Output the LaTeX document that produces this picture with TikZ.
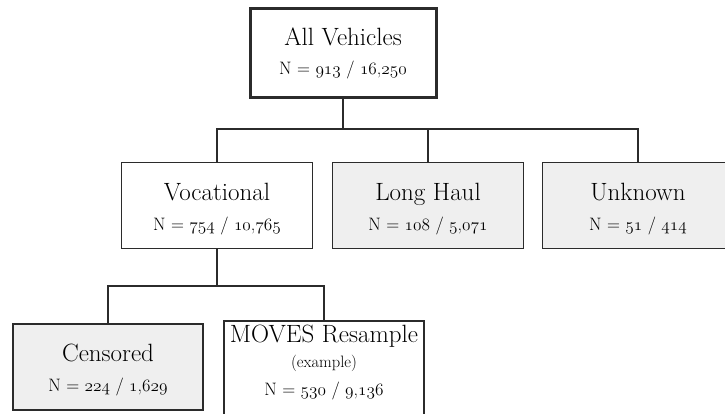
\documentclass[tikz,border=0pt]{standalone}
\usepackage{fontspec}
\usepackage{xcolor}
\usepackage{tikz}
\usetikzlibrary{positioning,calc}
\definecolor{boxgray}{HTML}{EFEFEF}
\definecolor{linegray}{HTML}{2B2B2B}
% old style digits
\newcommand{\osn}[1]{{\usefont{OML}{cmm}{m}{it}#1}}

\begin{document}
\begin{tikzpicture}[x=1pt, y=-1pt,
    box/.style={draw=linegray, line width=1.4pt, minimum width=191pt, minimum height=86pt, inner sep=0pt},
    shaded/.style={box, fill=boxgray},
    title/.style={anchor=base, inner sep=0pt, font=\fontsize{25}{27}\selectfont},
    note/.style={anchor=base, inner sep=0pt, font=\fontsize{16.5}{18}\selectfont},
    count/.style={anchor=base, inner sep=0pt, font=\fontsize{18}{20}\selectfont},
    link/.style={draw=linegray, line width=1.4pt}]
    \useasboundingbox (0,0) rectangle (725,413);
    \clip (0,0) rectangle (725,413);

    % boxes
    \node [box, line width=3pt, minimum width=186pt, minimum height=89pt] (all) at (343,52.5) {};
    \node [box] (voc) at (217,205.5) {};
    \node [shaded] (long) at (428,205.5) {};
    \node [shaded] (unk) at (638,205.5) {};
    \node [shaded, minimum width=190pt] (cens) at (108,367) {};
    \node [box, minimum width=200pt, minimum height=100pt] (moves) at (324,371) {};

    % labels
    \node [title] (allT) at ([yshift=-39pt]all.north) {All Vehicles};
    \node [count] (allN) at ([yshift=-68pt]all.north) {N = \osn{913} / \osn{16},\osn{250}};
    \node [title] (vocT) at ([yshift=-39pt]voc.north) {Vocational};
    \node [count] (vocN) at ([yshift=-69pt]voc.north) {N = \osn{754} / \osn{10},\osn{765}};
    \node [title] (longT) at ([yshift=-39pt]long.north) {Long Haul};
    \node [count] (longN) at ([yshift=-69pt]long.north) {N = \osn{108} / \osn{5},\osn{071}};
    \node [title] (unkT) at ([yshift=-39pt]unk.north) {Unknown};
    \node [count] (unkN) at ([yshift=-69pt]unk.north) {N = \osn{51} / \osn{414}};
    \node [title] (censT) at ([yshift=-38pt]cens.north) {Censored};
    \node [count] (censN) at ([yshift=-68pt]cens.north) {N = \osn{224} / \osn{1},\osn{629}};
    \node [title] (movesT) at ([yshift=-22pt]moves.north) {MOVES Resample};
    \node [note] (movesE) at ([yshift=-47pt]moves.north) {(example)};
    \node [count] (movesN) at ([yshift=-75pt]moves.north) {N = \osn{530} / \osn{9},\osn{136}};

    % connectors
    \coordinate (hub) at (343,129);
    \coordinate (fork) at (217,286);
    \draw [link] (all) -- (hub);
    \draw [link] (voc) |- (hub) -| (unk);
    \draw [link] (long) -- (long |- hub);
    \draw [link] (voc) -- (fork);
    \draw [link] (cens) |- (fork) -| (moves);
\end{tikzpicture}
\end{document}
